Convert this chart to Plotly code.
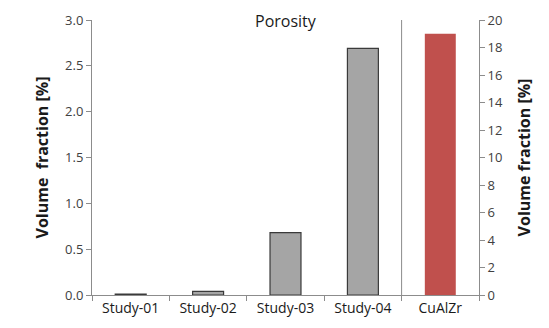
import plotly.graph_objects as go

categories = ["Study-01", "Study-02", "Study-03", "Study-04", "CuAlZr"]
study_names = ["Study-01", "Study-02", "Study-03", "Study-04"]
study_values = [0.01, 0.04, 0.68, 2.69]
alloy_names = ["CuAlZr"]
alloy_values = [19.0]

font_family = "'Open Sans', sans-serif"

fig = go.Figure()
fig.add_trace(go.Bar(
    x=study_names, y=study_values, width=0.4,
    marker=dict(color="#a5a5a5", line=dict(color="#3a3a3a", width=1.2)),
    yaxis="y", showlegend=False,
))
fig.add_trace(go.Bar(
    x=alloy_names, y=alloy_values, width=0.4,
    marker=dict(color="#c0504d", line=dict(color="#c0504d", width=0)),
    yaxis="y2", showlegend=False,
))

sep = len(categories) - 1.5
fig.add_shape(type="line", xref="x", yref="paper", x0=sep, x1=sep, y0=0, y1=1,
              line=dict(color="#8c8c8c", width=1))

fig.update_layout(
    width=541, height=320,
    margin=dict(l=84, r=70, t=12, b=33, autoexpand=False),
    paper_bgcolor="white", plot_bgcolor="white",
    barmode="overlay",
    font=dict(family=font_family, size=12, color="#404040"),
    xaxis=dict(
        type="category", categoryorder="array", categoryarray=categories,
        range=[-0.5, len(categories) - 0.5], automargin=False,
        showline=True, linecolor="#8c8c8c", linewidth=1,
        ticks="outside", tickson="boundaries", ticklen=5, tickcolor="#8c8c8c",
        showgrid=False, tickfont=dict(size=14, color="#1a1a1a"),
    ),
    yaxis=dict(
        range=[0, 3], dtick=0.5, tickformat=".1f", automargin=False,
        showline=True, linecolor="#8c8c8c", linewidth=1,
        ticks="outside", ticklen=5, tickcolor="#8c8c8c",
        showgrid=False, zeroline=False,
        tickfont=dict(size=13, color="#404040"),
        title=dict(text="<b>Volume  fraction [%]</b>", font=dict(size=16, color="#1a1a1a"), standoff=12),
    ),
    yaxis2=dict(
        range=[0, 20], dtick=2, overlaying="y", side="right", automargin=False,
        showline=True, linecolor="#8c8c8c", linewidth=1,
        ticks="outside", ticklen=5, tickcolor="#8c8c8c",
        showgrid=False, zeroline=False,
        tickfont=dict(size=13, color="#404040"),
        title=dict(text="<b>Volume fraction [%]</b>", font=dict(size=16, color="#1a1a1a"), standoff=16),
    ),
    annotations=[dict(text="Porosity", x=0.5, y=1.0, xref="paper", yref="paper",
                      xanchor="center", yanchor="top", yshift=12, showarrow=False,
                      font=dict(size=16, color="#1a1a1a"))],
)

fig.write_html("out.html")
